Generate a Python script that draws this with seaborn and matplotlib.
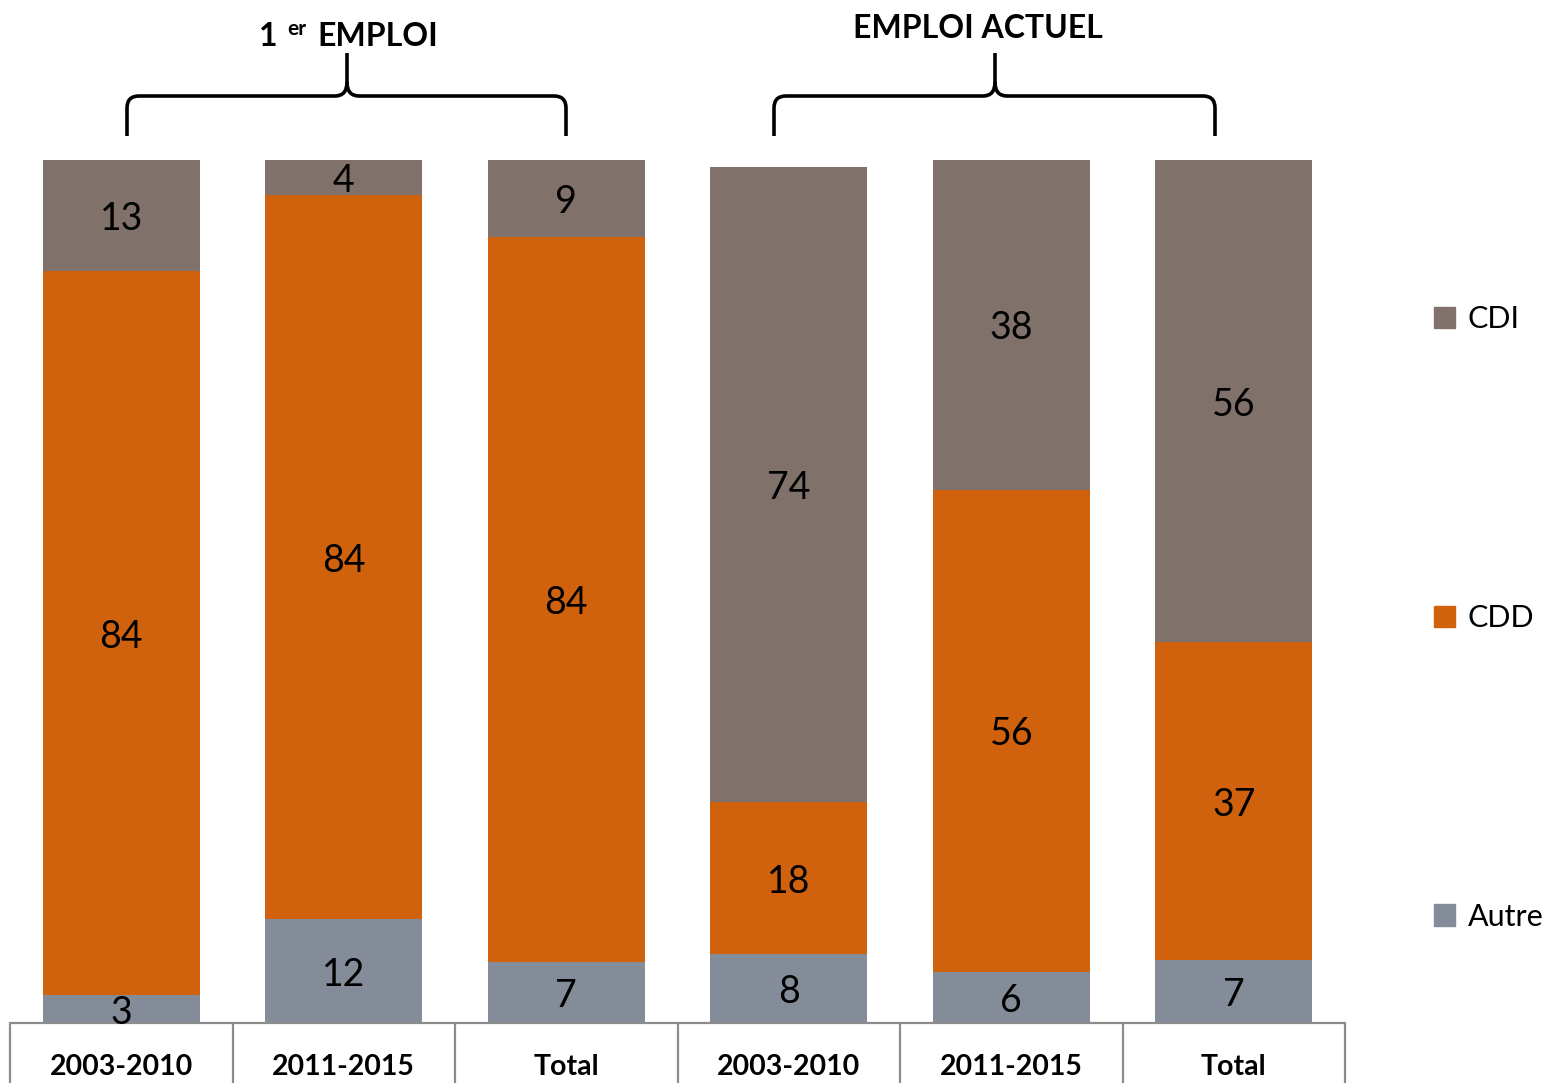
import matplotlib
matplotlib.use("Agg")
import matplotlib.pyplot as plt
import matplotlib.transforms as mtransforms
from matplotlib.path import Path
from matplotlib.patches import PathPatch, Patch
import seaborn as sns
import pandas as pd

# data (percent)
periods = ["2003-2010", "2011-2015", "Total", "2003-2010", "2011-2015", "Total"]
autre = [3.2, 12.0, 7.1, 8.0, 5.9, 7.3]
cdd = [83.9, 83.9, 84.0, 17.6, 55.9, 36.8]
cdi = [12.9, 4.1, 8.9, 73.6, 38.2, 55.9]
groups = ["EMPLOI", "EMPLOI ACTUEL"]

colors = {"CDI": "#80726A", "CDD": "#D0620D", "Autre": "#848C99"}

sns.set_style("white")
plt.rcParams["font.family"] = ["Lato", "DejaVu Sans"]
plt.rcParams["text.color"] = "black"

W, H = 1555, 1083
fig = plt.figure(figsize=(W / 100, H / 100), dpi=100)
ax = fig.add_axes([10 / W, (H - 1023) / H, 1335 / W, 863 / H])

df = pd.DataFrame({"slot": range(len(periods)), "Autre": autre, "CDD": cdd, "CDI": cdi})
df["low"] = df["Autre"]
df["mid"] = df["Autre"] + df["CDD"]
df["top"] = df["mid"] + df["CDI"]

# stacked bars: draw cumulative totals from the top layer down
for col, name in [("top", "CDI"), ("mid", "CDD"), ("low", "Autre")]:
    sns.barplot(data=df, x="slot", y=col, color=colors[name], width=0.705,
                saturation=1, linewidth=0, ax=ax)

# segment labels
for i, row in df.iterrows():
    for base, val in [(0, row["Autre"]), (row["low"], row["CDD"]), (row["mid"], row["CDI"])]:
        ax.text(i, base + val / 2, f"{val:.0f}", ha="center", va="center_baseline",
                fontsize=27, color="black")

ax.set_xlim(-0.5, len(periods) - 0.5)
ax.set_ylim(0, 100)
ax.set_xticks([])
ax.set_yticks([])
ax.set_xlabel("")
ax.set_ylabel("")
sns.despine(ax=ax, left=True, bottom=True)

# category table under the bars
xt = ax.get_xaxis_transform()
ax.plot([-0.5, len(periods) - 0.5], [0, 0], color="#8C8C8C", lw=1.6,
        transform=xt, clip_on=False)
for b in range(len(periods) + 1):
    ax.plot([b - 0.5, b - 0.5], [0, -0.1], color="#8C8C8C", lw=1.6,
            transform=xt, clip_on=False)
for i, p in enumerate(periods):
    ax.text(i, -0.048, p, transform=xt, ha="center", va="center_baseline",
            fontsize=20.5, fontweight="bold")

# legend
handles = [Patch(color=colors[n], label=n) for n in ["CDI", "CDD", "Autre"]]
fig.legend(handles=handles, loc="center left", bbox_to_anchor=(1434 / W, (H - 618) / H),
           frameon=False, fontsize=22, handlelength=0.7, handleheight=0.7,
           handletextpad=0.4, labelspacing=8.86, borderpad=0, borderaxespad=0)

# braces above the two groups (pixel coords from top-left)
px = mtransforms.Affine2D().scale(1 / W, -1 / H).translate(0, 1) + fig.transFigure


def brace(x0, x1, xc, h=96, yb=136, yt=53):
    verts = [(x0, yb), (x0, h + 12), (x0, h), (x0 + 12, h), (xc - 12, h),
             (xc, h), (xc, h - 14), (xc, yt)]
    codes = [Path.MOVETO, Path.LINETO, Path.CURVE3, Path.CURVE3, Path.LINETO,
             Path.CURVE3, Path.CURVE3, Path.LINETO]
    verts2 = [(xc, h - 14), (xc, h), (xc + 12, h), (x1 - 12, h), (x1, h), (x1, h + 12), (x1, yb)]
    codes2 = [Path.MOVETO, Path.CURVE3, Path.CURVE3, Path.LINETO, Path.CURVE3,
              Path.CURVE3, Path.LINETO]
    for v, c in [(verts, codes), (verts2, codes2)]:
        fig.add_artist(PathPatch(Path(v, c), transform=px, fill=False, lw=2.6,
                                 edgecolor="black", capstyle="butt", joinstyle="round"))


brace(127, 566, 347)
brace(774, 1215, 995)

fig.text(277 / W, 1 - 34 / H, "1", ha="right", va="center_baseline", fontsize=23, fontweight="bold")
fig.text(287 / W, 1 - 27 / H, "er", ha="left", va="center_baseline", fontsize=15, fontweight="bold")
fig.text(317 / W, 1 - 34 / H, groups[0], ha="left", va="center_baseline", fontsize=23, fontweight="bold")
fig.text(978 / W, 1 - 26 / H, groups[1], ha="center", va="center_baseline", fontsize=23, fontweight="bold")

fig.savefig("out.png", dpi=100)
